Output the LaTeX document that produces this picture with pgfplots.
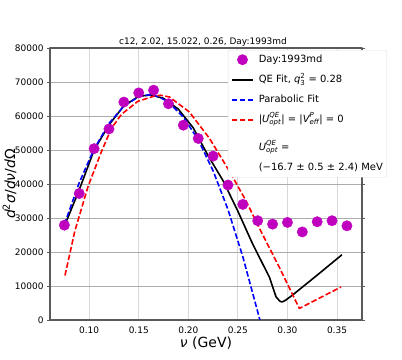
\documentclass[border=0pt]{standalone}
\usepackage{amsmath}
\usepackage{fontspec}
\setmainfont{DejaVu Sans}
\usepackage{pgfplots}
\pgfplotsset{compat=1.18}
\definecolor{mplmag}{RGB}{191,0,191}
\definecolor{framegray}{RGB}{90,90,90}
\newcommand{\mi}[1]{\text{\itshape #1}}

\begin{document}
\begin{tikzpicture}
\path[use as bounding box] (0,0) rectangle (402bp,360bp);
\begin{axis}[
  name=main,
  at={(50bp,40bp)}, anchor=south west,
  scale only axis, width=312bp, height=272bp,
  xmin=0.0605, xmax=0.3752, ymin=0, ymax=80000,
  xtick={0.10,0.15,0.20,0.25,0.30,0.35},
  ytick={0,10000,20000,30000,40000,50000,60000,70000,80000},
  scaled y ticks=false, scaled x ticks=false,
  /pgf/number format/assume math mode=true,
  xticklabel style={font=\fontsize{9}{10}\selectfont, /pgf/number format/.cd, fixed, fixed zerofill, precision=2},
  yticklabel style={font=\fontsize{9}{10}\selectfont, /pgf/number format/.cd, fixed, precision=0, set thousands separator={}},
  tick align=outside, major tick length=3bp,
  x tick style={draw=none},
  y tick style={framegray, line width=0.8bp},
  axis line style={framegray, line width=1.3bp},
  grid=major,
  x grid style={gray!30, line width=0.8bp},
  y grid style={gray!65, line width=0.8bp},
  xlabel={{\itshape ν} (GeV)},
  xlabel style={font=\fontsize{14}{16}\selectfont, at={(axis description cs:0.5,-0.085)}, anchor=center},
  ylabel={{\itshape d}\textsuperscript{2}{\itshape σ}/{\itshape dν}/{\itshape d}Ω},
  ylabel style={font=\fontsize{14}{16}\selectfont, at={(axis description cs:-0.13,0.5)}, anchor=center},
  legend image code/.code={\draw[mark repeat=2,mark phase=2,#1] plot coordinates {(0bp,0bp) (10.5bp,0bp) (21bp,0bp)};},
  legend cell align=left,
  legend style={at={(0.5705,0.9926)}, anchor=north west, draw=gray!25, fill=white,
    rounded corners=2bp, inner sep=3bp, row sep=7bp, column sep=4bp,
    font=\fontsize{10}{12}\selectfont,
    nodes={inner sep=1bp, text height=8bp, text depth=3bp}},
  line join=round,
]
\addplot[only marks, mark=*, mark size=5.2bp, mplmag, mark options={draw=mplmag, fill=mplmag}] coordinates {
(0.075,27900) (0.090,37200) (0.105,50400) (0.120,56200) (0.135,64100)
(0.150,66800) (0.165,67600) (0.180,63600) (0.195,57300) (0.210,53400)
(0.225,48200) (0.240,39700) (0.255,34000) (0.270,29200) (0.285,28200)
(0.300,28700) (0.315,25900) (0.330,28900) (0.345,29200) (0.360,27700)
};
\addlegendentry{Day:1993md}

\addplot[black, line width=1.6bp, mark=none] coordinates {
(0.0756,28000) (0.090,38300) (0.105,50000) (0.120,57400) (0.135,63000)
(0.150,65800) (0.162,66200) (0.175,65200) (0.190,62000) (0.205,56500)
(0.220,48300) (0.235,41000) (0.250,32000) (0.265,22300) (0.2818,12600)
(0.2885,6800) (0.2925,5500) (0.2946,5300) (0.298,5800) (0.305,7300)
(0.330,13200) (0.355,19200)
};
\addlegendentry{QE Fit, $\mi{q}_{\text{3}}^{\text{2}}$ = 0.28}

\addplot[blue, line width=1.6bp, dash pattern=on 5.5bp off 2.4bp, mark=none] coordinates {
(0.075,28100) (0.090,40400) (0.105,50300) (0.120,57800) (0.135,62900)
(0.150,65700) (0.160,66200) (0.170,65700) (0.180,64100) (0.195,59700)
(0.210,53000) (0.225,43900) (0.240,32500) (0.255,18600) (0.270,2400)
(0.2722,0)
};
\addlegendentry{Parabolic Fit}

\addplot[red, line width=1.6bp, dash pattern=on 5.5bp off 2.4bp, mark=none] coordinates {
(0.0756,13100) (0.0856,26200) (0.099,39400) (0.1125,49600) (0.1225,56400)
(0.1326,60500) (0.149,64300) (0.166,65900) (0.172,66100) (0.181,65600)
(0.201,61200) (0.2214,53400) (0.2416,43700) (0.2583,35000) (0.2717,27000)
(0.2918,15500) (0.312,3400) (0.354,9700)
};
\addlegendentry{|$\mi{U}^{\mi{QE}}_{\mi{opt}}$| = |$\mi{V}^{\mi{P}}_{\mi{eff}}$| = 0}

\addlegendimage{empty legend}
\addlegendentry[text height=16bp]{$\mi{U}^{\mi{QE}}_{\mi{opt}}$ =}
\addlegendimage{empty legend}
\addlegendentry{(−16.7 ± 0.5 ± 2.4) MeV}
\end{axis}
\node[font=\fontsize{9}{10}\selectfont, anchor=south, inner sep=1.5bp] at ([xshift=-3bp]main.north) {c12, 2.02, 15.022, 0.26, Day:1993md};
\end{tikzpicture}
\end{document}
